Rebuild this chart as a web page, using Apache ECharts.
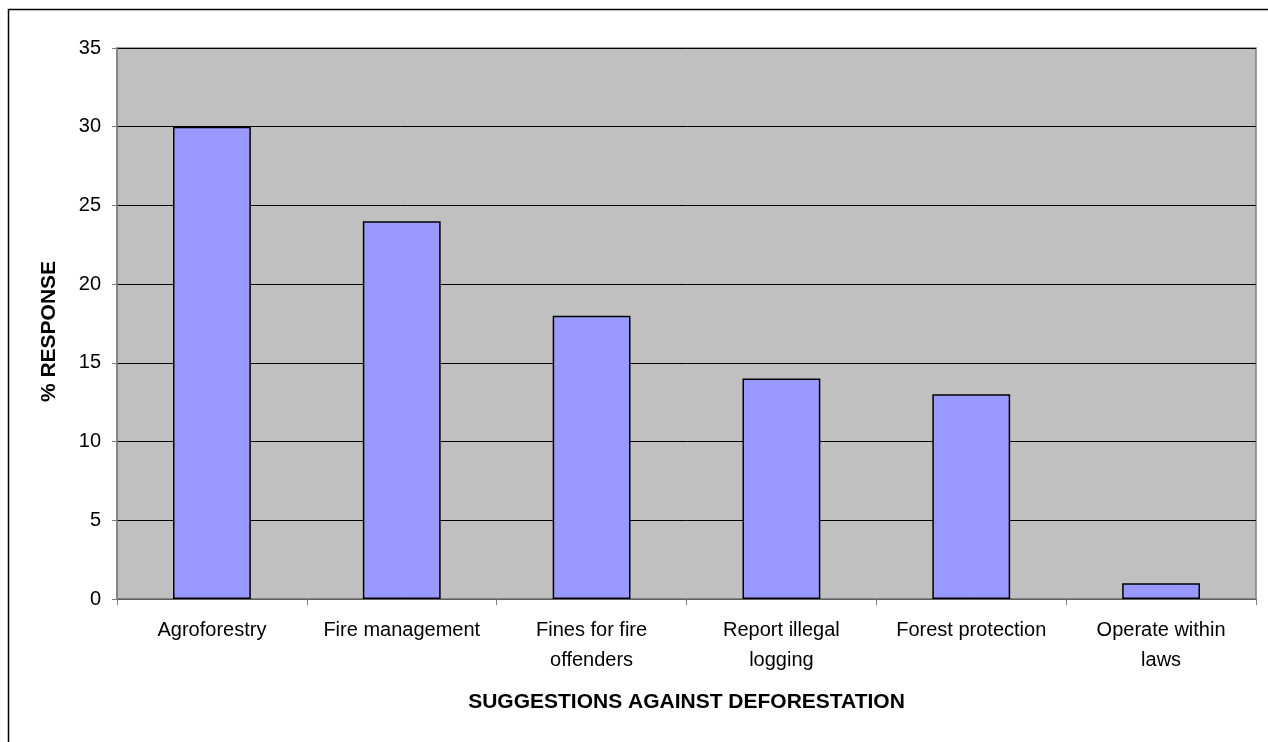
<!DOCTYPE html>
<html>
<head>
<meta charset="utf-8">
<script src="https://cdn.jsdelivr.net/npm/echarts@6/dist/echarts.min.js"></script>
<style>
  html, body { margin: 0; padding: 0; background: #fff; }
  #chart { width: 1268px; height: 742px; }
</style>
</head>
<body>
<div id="chart"></div>
<script>
  var categories = [
    'Agroforestry', 'Fire management', 'Fines for fire\noffenders',
    'Report illegal\nlogging', 'Forest protection', 'Operate within\nlaws'
  ];
  var responses = [30, 24, 18, 14, 13, 1];

  var chart = echarts.init(document.getElementById('chart'), null, { renderer: 'canvas' });

  chart.setOption({
    animation: false,
    textStyle: {
      fontFamily: 'Arial, "Liberation Sans", sans-serif'
    },
    graphic: [{
      type: 'rect',
      shape: { x: 8.5, y: 9.5, width: 1400, height: 900 },
      style: { fill: null, stroke: '#000', lineWidth: 1.5 },
      silent: true,
      z: -1
    }],
    grid: {
      left: 117,
      right: 12,
      top: 48,
      bottom: 143,
      show: true,
      backgroundColor: '#C0C0C0',
      borderColor: '#808080',
      borderWidth: 1.5
    },
    xAxis: {
      type: 'category',
      data: categories,
      name: 'SUGGESTIONS AGAINST DEFORESTATION',
      nameLocation: 'middle',
      nameGap: 93,
      nameTextStyle: { fontSize: 21, fontWeight: 'bold', color: '#000' },
      axisLine: { lineStyle: { color: '#808080', width: 1.5 } },
      axisTick: { show: true, alignWithLabel: false, length: 6, lineStyle: { color: '#808080' } },
      axisLabel: { fontSize: 20, color: '#000', lineHeight: 30, margin: 16, interval: 0 }
    },
    yAxis: {
      type: 'value',
      min: 0,
      max: 35,
      interval: 5,
      name: '% RESPONSE',
      nameLocation: 'middle',
      nameGap: 57,
      nameTextStyle: { fontSize: 21, fontWeight: 'bold', color: '#000', padding: [0, 16, 0, 0] },
      axisLine: { show: true, lineStyle: { color: '#808080', width: 1.5 } },
      axisTick: { show: true, length: 5, lineStyle: { color: '#808080' } },
      axisLabel: { fontSize: 20, color: '#000', margin: 16 },
      splitLine: { lineStyle: { color: '#000', width: 1 } }
    },
    series: [{
      type: 'bar',
      data: responses,
      barWidth: '41%',
      itemStyle: {
        color: '#9999FF',
        borderColor: '#000',
        borderWidth: 1.5
      }
    }]
  });
</script>
</body>
</html>
